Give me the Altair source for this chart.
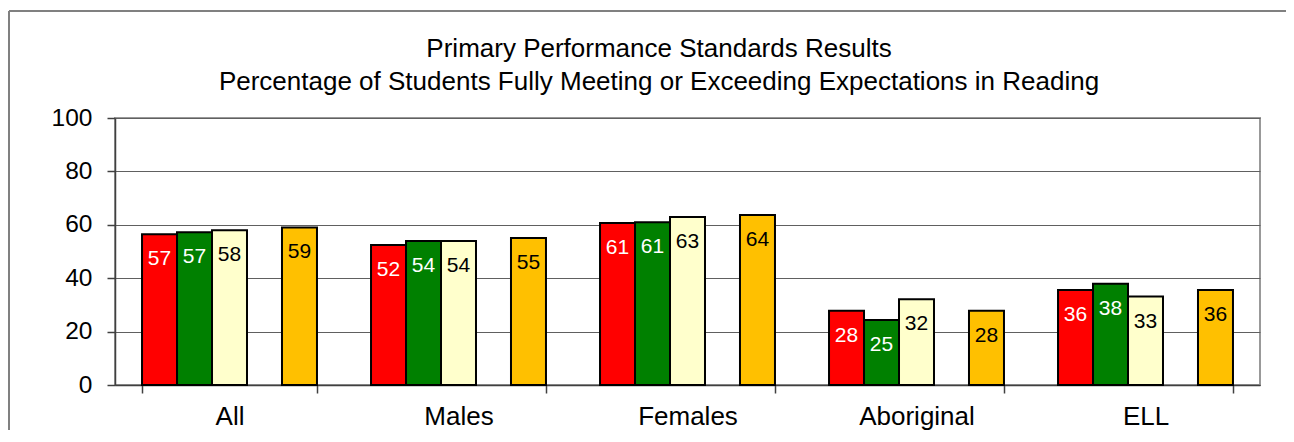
import altair as alt
import pandas as pd

categories = ["All", "Males", "Females", "Aboriginal", "ELL"]
series = ["Series 1", "Series 2", "Series 3", "Series 4"]
slots = ["Series 1", "Series 2", "Series 3", "gap", "Series 4"]
colors = ["#FF0000", "#008000", "#FFFFCC", "#FFC000"]
text_colors = ["white", "white", "black", "black"]

values_1 = [56.5, 52.4, 60.7, 27.8, 35.6]
values_2 = [57.2, 53.9, 61.0, 24.3, 37.9]
values_3 = [58.0, 53.9, 62.9, 32.1, 33.1]
values_4 = [59.0, 55.1, 63.7, 27.8, 35.6]

labels_1 = [57, 52, 61, 28, 36]
labels_2 = [57, 54, 61, 25, 38]
labels_3 = [58, 54, 63, 32, 33]
labels_4 = [59, 55, 64, 28, 36]

title_lines = [
    "Primary Performance Standards Results",
    "Percentage of Students Fully Meeting or Exceeding Expectations in Reading",
]

rows = []
for s, vals, labs, tc in zip(series, [values_1, values_2, values_3, values_4],
                             [labels_1, labels_2, labels_3, labels_4], text_colors):
    for c, v, l in zip(categories, vals, labs):
        rows.append({"category": c, "series": s, "value": v, "label": str(l), "tcolor": tc})
df = pd.DataFrame(rows)

FONT = "Liberation Sans"

base = alt.Chart(df).encode(
    x=alt.X(
        "category:N",
        sort=categories,
        scale=alt.Scale(paddingInner=0.236, paddingOuter=0.118),
        axis=alt.Axis(
            title=None, labelAngle=0, tickBand="extent", labelFontSize=26,
            labelFont=FONT, labelColor="black", tickSize=8, tickColor="#404040",
            domainColor="#404040", domainWidth=1.5, tickWidth=1.5, labelPadding=10,
        ),
    ),
    xOffset=alt.XOffset("series:N", scale=alt.Scale(domain=slots, paddingInner=0, paddingOuter=0)),
    y=alt.Y(
        "value:Q",
        scale=alt.Scale(domain=[0, 100]),
        axis=alt.Axis(
            title=None, values=[0, 20, 40, 60, 80, 100], labelFontSize=24.5, labelFont=FONT,
            labelColor="black", tickSize=8, tickColor="#404040", domainColor="#404040",
            domainWidth=1.5, tickWidth=1.5, gridColor="#606060", gridWidth=1.2,
            labelPadding=15,
        ),
    ),
)

bars = base.mark_bar(stroke="black", strokeWidth=2).encode(
    color=alt.Color("series:N", scale=alt.Scale(domain=series, range=colors), legend=None)
)

text = base.mark_text(baseline="middle", dy=25, fontSize=21, font=FONT).encode(
    text="label:N",
    color=alt.Color("tcolor:N", scale=None),
)

frame_data = pd.DataFrame({"f": [0]})
frame_top = alt.Chart(frame_data).mark_rule(stroke="#808080", strokeWidth=2).encode(
    x=alt.value(-106), x2=alt.value(1400), y=alt.value(-107)
)
frame_left = alt.Chart(frame_data).mark_rule(stroke="#808080", strokeWidth=2).encode(
    x=alt.value(-106), y=alt.value(-107), y2=alt.value(500)
)

title1 = alt.Chart(pd.DataFrame({"t": [title_lines[0]]})).mark_text(
    fontSize=26, font=FONT, color="black", align="center", baseline="alphabetic"
).encode(text="t:N", x=alt.value(544), y=alt.value(-61))

title2 = alt.Chart(pd.DataFrame({"t": [title_lines[1]]})).mark_text(
    fontSize=26, font=FONT, color="black", align="center", baseline="alphabetic"
).encode(text="t:N", x=alt.value(544), y=alt.value(-28))

chart = alt.layer(frame_top, frame_left, bars, text, title1, title2).properties(
    width=1145,
    height=267,
    autosize=alt.AutoSizeParams(type="none"),
    padding={"left": 107, "top": 110, "right": 26, "bottom": 45},
).configure_view(stroke="#999999", strokeWidth=2)

chart.save("out.html", embed_options={"renderer": "svg", "actions": False})
